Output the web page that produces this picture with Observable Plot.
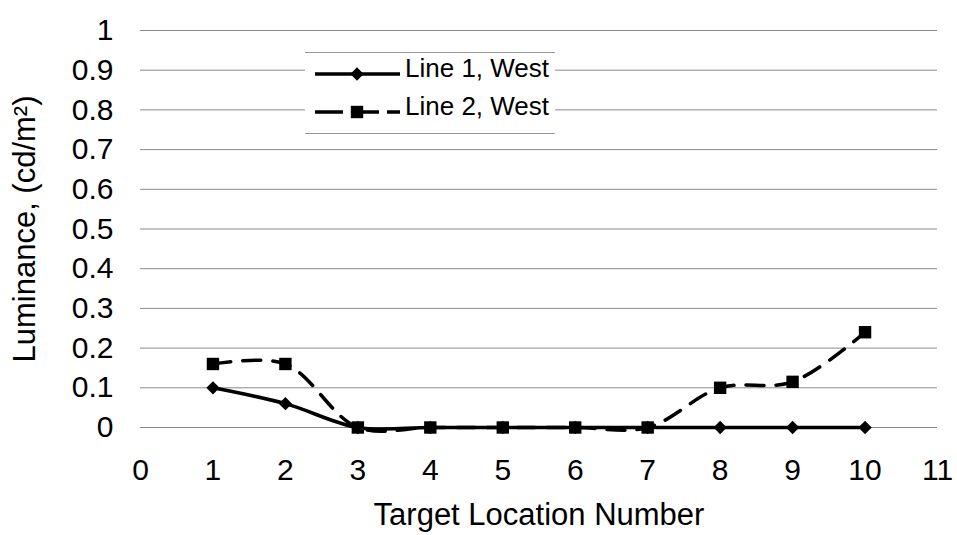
<!DOCTYPE html>
<html>
<head>
<meta charset="utf-8">
<script src="https://cdn.jsdelivr.net/npm/d3@7"></script>
<script src="https://cdn.jsdelivr.net/npm/@observablehq/plot@0.6"></script>
<style>
  html, body { margin: 0; padding: 0; background: #fff; }
  #wrap { position: relative; width: 957px; height: 535px; font-family: "Liberation Sans", Arial, sans-serif; }
  #wrap svg text { fill: #000; }
  g[aria-label="x-axis label"] text { font-size: 31px; }
  g[aria-label="y-axis label"] text { font-size: 31px; }
  #legend { position: absolute; left: 305px; top: 52px; width: 250px; height: 82px; background: #fff;
            border-top: 1px solid #999; border-bottom: 1px solid #999; box-sizing: border-box; }
</style>
</head>
<body>
<div id="wrap"></div>
<script>
const targets = [1, 2, 3, 4, 5, 6, 7, 8, 9, 10];
const line1West = [0.10, 0.06, 0, 0, 0, 0, 0, 0, 0, 0];
const line2West = [0.16, 0.16, 0, 0, 0, 0, 0, 0.10, 0.115, 0.24];
const seriesNames = ["Line 1, West", "Line 2, West"];
const xTicks = [0, 1, 2, 3, 4, 5, 6, 7, 8, 9, 10, 11];
const yTicks = [0, 0.1, 0.2, 0.3, 0.4, 0.5, 0.6, 0.7, 0.8, 0.9, 1];

const d1 = targets.map((x, i) => ({x, y: line1West[i]}));
const d2 = targets.map((x, i) => ({x, y: line2West[i]}));

const chart = Plot.plot({
  width: 957,
  height: 535,
  marginLeft: 140,
  marginRight: 20,
  marginTop: 30,
  marginBottom: 108,
  style: {fontFamily: "'Liberation Sans', Arial, sans-serif", fontSize: "30px", color: "#000", background: "#fff", overflow: "visible"},
  x: {domain: [0, 11], ticks: xTicks, tickSize: 0, tickPadding: 31, tickFormat: d => String(d),
      label: "Target Location Number", labelArrow: "none", labelAnchor: "center", labelOffset: 97},
  y: {domain: [0, 1], ticks: yTicks, tickSize: 0, tickPadding: 27, tickFormat: d => String(+d.toFixed(1)),
      label: "Luminance, (cd/m²)", labelArrow: "none", labelAnchor: "center", labelOffset: 128},
  marks: [
    Plot.ruleY(yTicks, {stroke: "#8a8a8a", strokeWidth: 1}),
    Plot.line(d2, {x: "x", y: "y", curve: "catmull-rom", stroke: "#000", strokeWidth: 3.5, strokeDasharray: "18,12"}),
    Plot.line(d1, {x: "x", y: "y", curve: "catmull-rom", stroke: "#000", strokeWidth: 3.5}),
    Plot.dot(d1, {x: "x", y: "y", symbol: "diamond2", r: 6, fill: "#000", stroke: "none"}),
    Plot.dot(d2, {x: "x", y: "y", symbol: "square", r: 7, fill: "#000", stroke: "none"})
  ]
});
document.getElementById("wrap").appendChild(chart);

// Legend overlay inside the plot area
const legend = d3.select("#wrap").append("div").attr("id", "legend");
const ls = legend.append("svg").attr("width", 250).attr("height", 82).style("overflow", "visible");
const rows = [
  {name: seriesNames[0], dash: null, sym: d3.symbolDiamond2, r: 6},
  {name: seriesNames[1], dash: "28,8", sym: d3.symbolSquare, r: 7}
];
rows.forEach((row, i) => {
  const ty = 15 + i * 38;
  const ly = ty + 6;
  ls.append("line").attr("x1", 10).attr("x2", 95).attr("y1", ly).attr("y2", ly)
    .attr("stroke", "#000").attr("stroke-width", 3.5).attr("stroke-dasharray", row.dash);
  ls.append("path").attr("d", d3.symbol(row.sym, Math.PI * row.r * row.r)())
    .attr("transform", `translate(52,${ly})`).attr("fill", "#000");
  ls.append("text").attr("x", 100).attr("y", ty).attr("dy", "0.35em")
    .style("font-size", "26px").style("font-family", "'Liberation Sans', Arial, sans-serif").text(row.name);
});
</script>
</body>
</html>
